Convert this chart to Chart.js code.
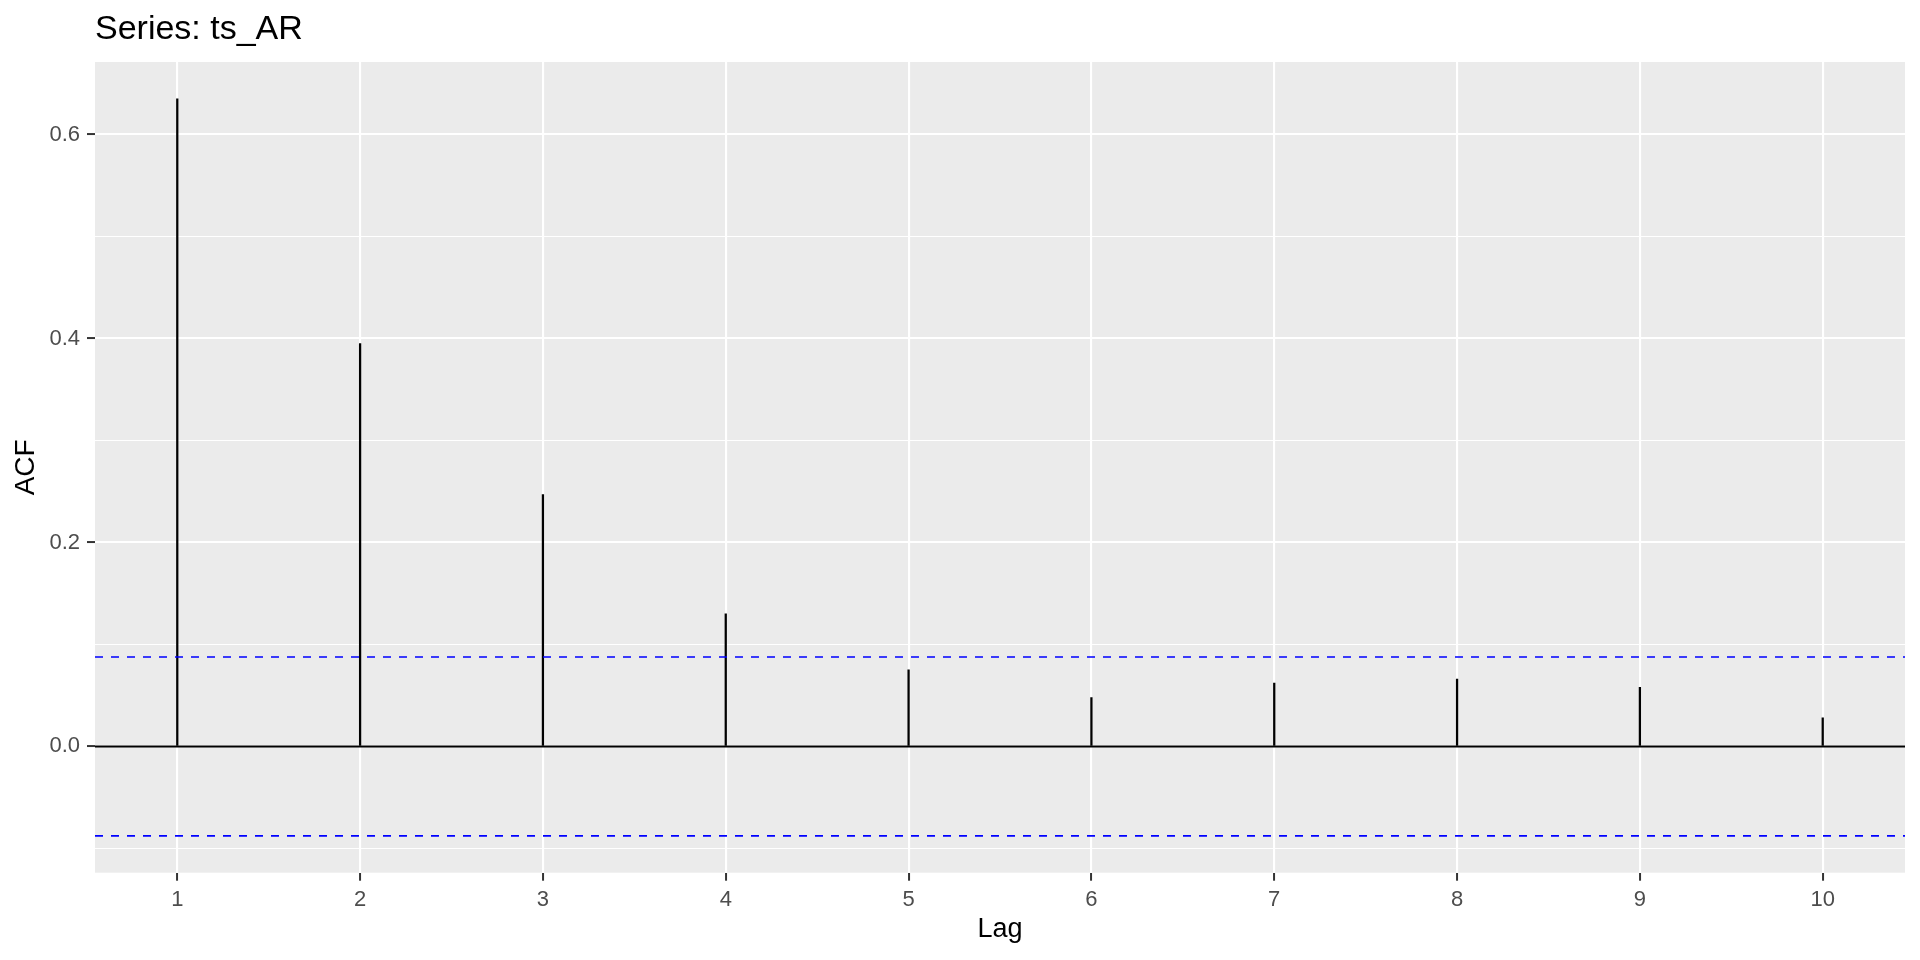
<!DOCTYPE html>
<html>
<head>
<meta charset="utf-8">
<title>Series: ts_AR</title>
<script src="https://cdn.jsdelivr.net/npm/chart.js@4/dist/chart.umd.min.js"></script>
<style>
  html, body { margin: 0; padding: 0; background: #fff; }
  #wrap { width: 1920px; height: 960px; position: relative; }
</style>
</head>
<body>
<div id="wrap"><canvas id="acf"></canvas></div>
<script>
// values
const lags = [1, 2, 3, 4, 5, 6, 7, 8, 9, 10];
const acf = [0.635, 0.395, 0.247, 0.130, 0.075, 0.048, 0.062, 0.066, 0.058, 0.028];
const ci = 0.0877;

const yMajor = [0.0, 0.2, 0.4, 0.6];
const yMajorLabels = ['0.0', '0.2', '0.4', '0.6'];
const yMinor = [-0.1, 0.1, 0.3, 0.5];
const xLabels = ['1', '2', '3', '4', '5', '6', '7', '8', '9', '10'];

// ggplot style 5% expansion
const xMin = lags[0] - 0.05 * (lags[lags.length - 1] - lags[0]);
const xMax = lags[lags.length - 1] + 0.05 * (lags[lags.length - 1] - lags[0]);
const yLo = Math.min(-ci, ...acf), yHi = Math.max(ci, ...acf);
const yMin = yLo - 0.05 * (yHi - yLo);
const yMax = yHi + 0.05 * (yHi - yLo);

const FONT = "'Liberation Sans', Arial, sans-serif";
const PANEL = '#EBEBEB';

const isMajorY = v => yMajor.some(m => Math.abs(m - v) < 1e-9);

const panelBg = {
  id: 'panelBg',
  beforeDraw(chart) {
    const {ctx, chartArea: a} = chart;
    ctx.save();
    ctx.fillStyle = PANEL;
    ctx.fillRect(a.left, a.top, a.right - a.left, a.bottom - a.top);
    ctx.restore();
  }
};

const data = {
  datasets: [{
    type: 'line',
    label: 'ci upper',
    data: [{x: xMin, y: ci}, {x: xMax, y: ci}],
    borderColor: '#0000FF',
    borderWidth: 1.6,
    borderDash: [8, 8],
    pointRadius: 0,
    order: 1
  }, {
    type: 'line',
    label: 'ci lower',
    data: [{x: xMin, y: -ci}, {x: xMax, y: -ci}],
    borderColor: '#0000FF',
    borderWidth: 1.6,
    borderDash: [8, 8],
    pointRadius: 0,
    order: 1
  }, {
    type: 'bar',
    label: 'ACF',
    data: lags.map((l, i) => ({x: l, y: acf[i]})),
    backgroundColor: '#000',
    borderWidth: 0,
    barThickness: 1.6,
    order: 2
  }, {
    type: 'line',
    label: 'zero',
    data: [{x: xMin, y: 0}, {x: xMax, y: 0}],
    borderColor: '#000',
    borderWidth: 2,
    pointRadius: 0,
    order: 3
  }]
};

const config = {
  type: 'bar',
  data: data,
  plugins: [panelBg],
  options: {
    responsive: true,
    maintainAspectRatio: false,
    devicePixelRatio: 1,
    animation: false,
    layout: { padding: { left: 0, right: 15, top: 0, bottom: 0 } },
    plugins: {
      legend: { display: false },
      tooltip: { enabled: false },
      title: {
        display: true,
        text: 'Series: ts_AR',
        align: 'start',
        fullSize: false,
        color: '#000',
        font: { family: FONT, size: 34, weight: 'normal' },
        padding: { top: 9, bottom: 12.2 }
      }
    },
    scales: {
      x: {
        type: 'linear',
        min: xMin,
        max: xMax,
        offset: false,
        afterBuildTicks: s => { s.ticks = lags.map(v => ({value: v})); },
        afterFit: s => { s.height = 87.3; },
        ticks: {
          color: '#4D4D4D',
          font: { family: FONT, size: 22 },
          padding: 6,
          maxRotation: 0,
          autoSkip: false,
          callback: (v, i) => xLabels[i]
        },
        grid: {
          offset: false,
          color: '#FFFFFF',
          lineWidth: 2.1,
          tickColor: '#333333',
          tickWidth: 2,
          tickLength: 8
        },
        border: { display: false },
        title: {
          display: true,
          text: 'Lag',
          color: '#000',
          font: { family: FONT, size: 27 },
          padding: { top: 0, bottom: 14 }
        }
      },
      y: {
        type: 'linear',
        min: yMin,
        max: yMax,
        afterBuildTicks: s => {
          s.ticks = [...yMinor, ...yMajor].sort((a, b) => a - b).map(v => ({value: v}));
        },
        afterFit: s => { s.width = 95; },
        ticks: {
          color: '#4D4D4D',
          font: { family: FONT, size: 22 },
          padding: 7,
          autoSkip: false,
          callback: v => {
            const k = yMajor.findIndex(m => Math.abs(m - v) < 1e-9);
            return k >= 0 ? yMajorLabels[k] : '';
          }
        },
        grid: {
          color: '#FFFFFF',
          lineWidth: c => isMajorY(c.tick.value) ? 2.1 : 1.07,
          tickColor: c => isMajorY(c.tick.value) ? '#333333' : 'rgba(0,0,0,0)',
          tickWidth: 2,
          tickLength: 8
        },
        border: { display: false },
        title: {
          display: true,
          text: 'ACF',
          color: '#000',
          font: { family: FONT, size: 28 },
          padding: { top: 9, bottom: 0 }
        }
      }
    }
  }
};

new Chart(document.getElementById('acf'), config);
</script>
</body>
</html>
